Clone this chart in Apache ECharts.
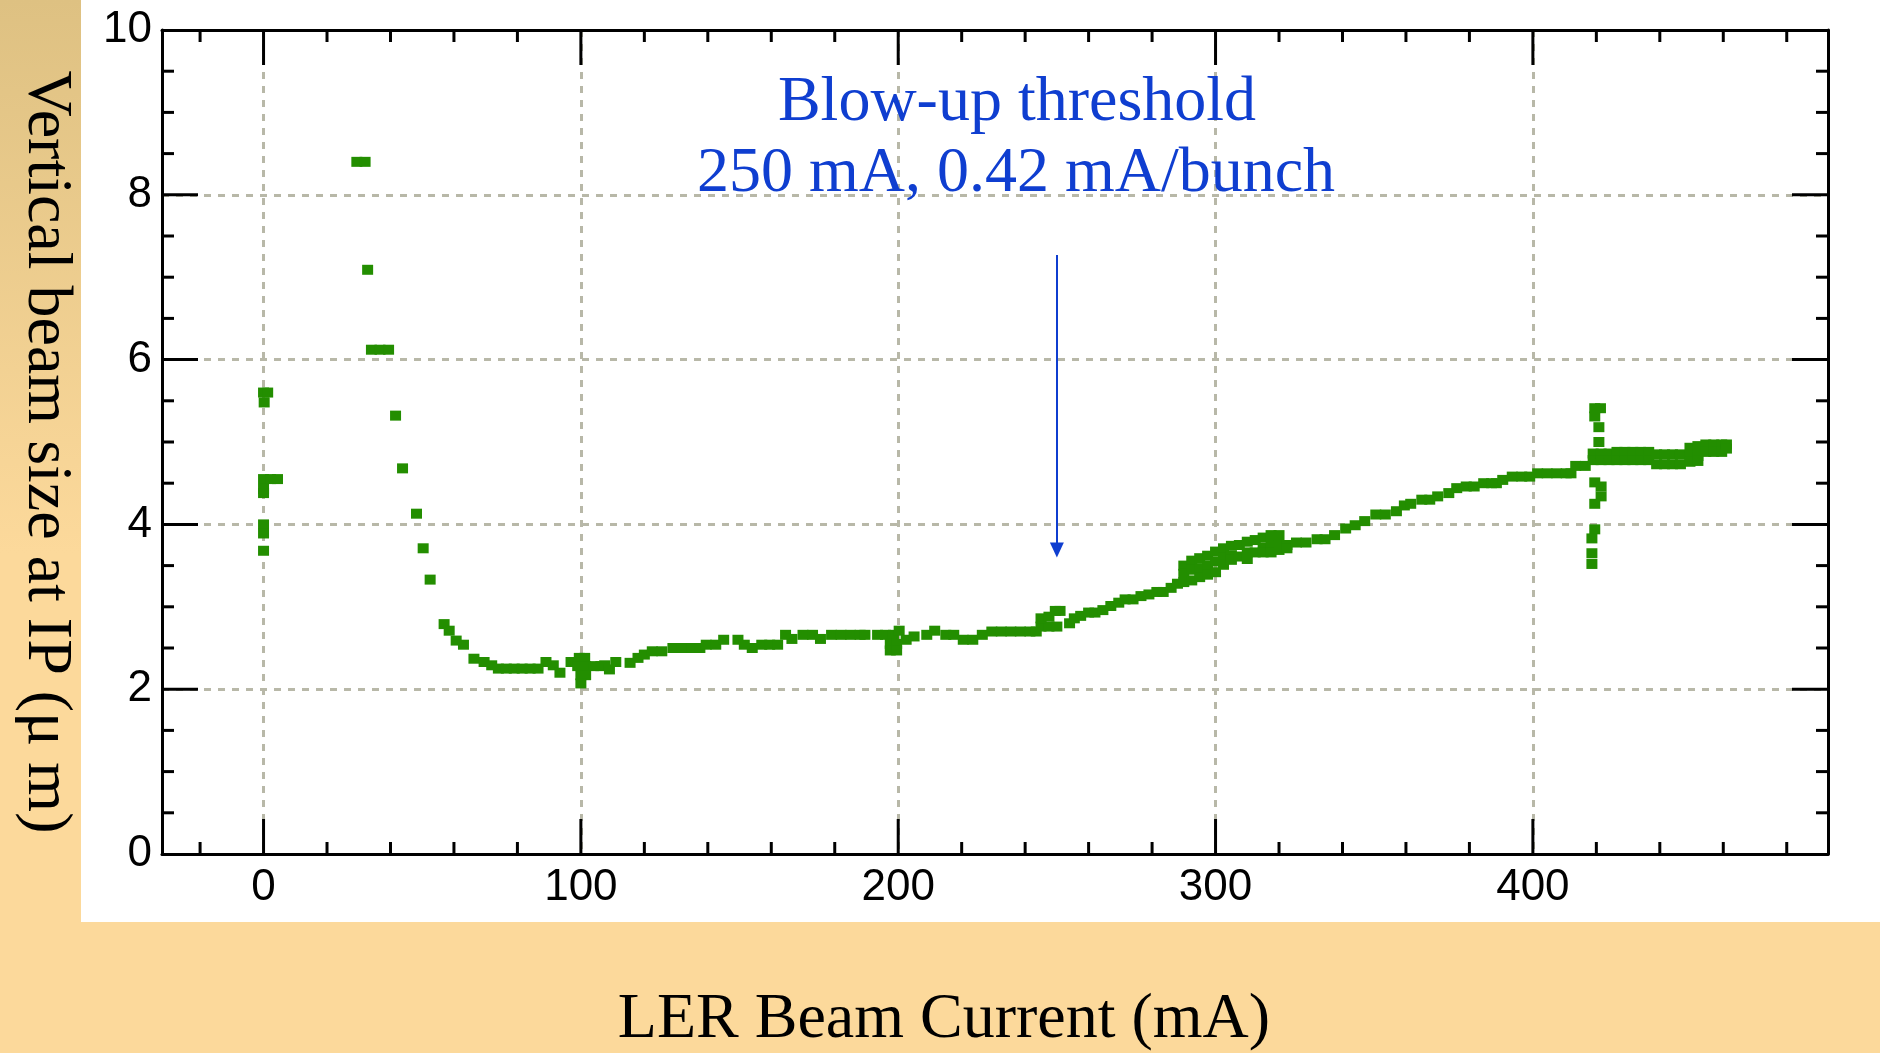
<!DOCTYPE html>
<html>
<head>
<meta charset="utf-8">
<title>Vertical beam size at IP vs LER beam current</title>
<script src="https://cdn.jsdelivr.net/npm/echarts@6/dist/echarts.min.js"></script>
<style>
  html, body { margin: 0; padding: 0; background: #FCD99B; }
  #chart { width: 1880px; height: 1053px; }
</style>
</head>
<body>
<div id="chart"></div>
<script>
// ---- axes ----
const xRange = [-32, 493];
const yRange = [0, 10];
const yTickStep = 2;
const xMajorTicks = [0, 100, 200, 300, 400];
const xMinorTicks = [-20, 20, 40, 60, 80, 120, 140, 160, 180, 220, 240, 260, 280,
                     320, 340, 360, 380, 420, 440, 460, 480];
const yMajorTicks = [2, 4, 6, 8];
const yMinorTicks = [0.5, 1, 1.5, 2.5, 3, 3.5, 4.5, 5, 5.5, 6.5, 7, 7.5, 8.5, 9, 9.5];

// ---- measurements: [LER current (mA), vertical beam size (μm)] ----
const injectionScan = [
  [0, 5.60], [1.3, 5.60], [0.2, 5.48],
  [0, 4.55], [2.2, 4.55], [4.4, 4.55], [0, 4.43], [0, 4.38],
  [0, 4.00], [0, 3.89], [0, 3.68]
];

const lowCurrent = [
  [29.4, 8.40], [32.0, 8.40], [32.8, 7.09],
  [34, 6.12], [36.7, 6.12], [39.4, 6.12],
  [41.6, 5.32], [43.8, 4.68], [48.2, 4.13], [50.3, 3.71], [52.5, 3.33],
  [56.9, 2.79], [58.5, 2.71], [60.7, 2.59], [63, 2.54], [66.3, 2.37],
  [69.5, 2.33], [71.9, 2.29], [74, 2.25], [76.5, 2.25], [79, 2.25],
  [81.5, 2.25], [84, 2.25], [86.5, 2.25], [89, 2.33], [91.3, 2.29],
  [93.4, 2.20], [96.9, 2.33]
];

const plateau = [
  [99.5, 2.38], [101.2, 2.38], [99, 2.28], [101.5, 2.28], [104, 2.28], [106.3, 2.28],
  [100, 2.17], [101.5, 2.17], [100, 2.07],
  [107.5, 2.29], [109, 2.24], [111, 2.33], [115.5, 2.32], [118, 2.38], [120, 2.42],
  [122.5, 2.46], [125.5, 2.46], [129, 2.50], [132, 2.50], [135, 2.50], [137.5, 2.50],
  [139.5, 2.54], [142.5, 2.54], [145, 2.60], [149.5, 2.60], [151.5, 2.54], [154, 2.50],
  [157, 2.54], [159.5, 2.54], [162, 2.54], [164.5, 2.66], [166.5, 2.61], [170, 2.66],
  [173, 2.66], [175.5, 2.61], [179, 2.66], [182, 2.66], [185, 2.66], [188, 2.66],
  [189.5, 2.66], [193.5, 2.66], [196, 2.66], [198.5, 2.66], [200.3, 2.71],
  [197.5, 2.55], [199.5, 2.55], [197.5, 2.47], [199.5, 2.47],
  [202.5, 2.60], [205, 2.64], [209, 2.66], [211.5, 2.71], [215, 2.66], [217.5, 2.66],
  [220.5, 2.60], [223.5, 2.60], [226.5, 2.66], [229.5, 2.70], [232.5, 2.70],
  [235.5, 2.70], [238.5, 2.70], [241.5, 2.70], [243.5, 2.70]
];

const rise = [
  [245, 2.76], [247.5, 2.76], [250, 2.76], [245, 2.86], [247.5, 2.88],
  [249.5, 2.95], [251, 2.95], [254, 2.80], [255.5, 2.86], [257.5, 2.89],
  [260, 2.93], [262, 2.93], [264.5, 2.96], [267, 3.01], [269.5, 3.05],
  [271.5, 3.09], [274, 3.09], [276.5, 3.13], [279, 3.15], [281.5, 3.18],
  [283.5, 3.18], [286, 3.23], [288, 3.28]
];

const spread = [
  [290, 3.50], [290, 3.40], [290, 3.30], [292.5, 3.56], [292.5, 3.45], [292.5, 3.32],
  [295, 3.59], [295, 3.47], [295, 3.36], [297.5, 3.62], [297.5, 3.50], [297.5, 3.39],
  [300, 3.67], [300, 3.55], [300, 3.42], [302.5, 3.71], [302.5, 3.60], [302.5, 3.51],
  [305, 3.74], [305, 3.62], [305, 3.57], [307.5, 3.75], [307.5, 3.61],
  [310, 3.79], [310, 3.66], [310, 3.58], [312.5, 3.81], [312.5, 3.66],
  [315, 3.84], [315, 3.72], [315, 3.66], [317.5, 3.87], [317.5, 3.75], [317.5, 3.66],
  [320, 3.87], [320, 3.75], [320, 3.69], [322.5, 3.75], [322.5, 3.71]
];

const highCurrent = [
  [325.5, 3.78], [328.5, 3.78], [332, 3.82], [334.5, 3.82], [337.5, 3.87],
  [341, 3.95], [344, 3.99], [347, 4.04], [350.5, 4.12], [353.5, 4.12],
  [357, 4.16], [359.5, 4.23], [361.5, 4.25], [365, 4.30], [367.5, 4.30],
  [370, 4.34], [373.5, 4.38], [376, 4.44], [379, 4.46], [381.5, 4.46],
  [384.5, 4.50], [387, 4.50], [388.5, 4.50], [390.5, 4.54], [393.5, 4.58],
  [396.5, 4.58], [399, 4.58], [401.5, 4.62], [404.5, 4.62], [407.5, 4.62],
  [410.5, 4.62], [412, 4.62], [413.5, 4.71], [416.5, 4.71]
];

const spike = [
  [419.5, 5.41], [421.3, 5.41], [419.5, 5.31], [420.8, 5.18], [420.8, 5.00],
  [419.5, 4.51], [421.5, 4.46], [421.5, 4.34], [419.5, 4.25],
  [419.5, 3.94], [418.6, 3.83], [418.6, 3.65], [418.6, 3.52]
];

const topBand = [
  [419, 4.86], [419, 4.78], [421.5, 4.86], [421.5, 4.78], [424, 4.86], [424, 4.78],
  [426.5, 4.88], [426.5, 4.78], [429, 4.88], [429, 4.78], [431.5, 4.88], [431.5, 4.78],
  [434, 4.88], [434, 4.78], [436.5, 4.88], [436.5, 4.78], [439, 4.85], [439, 4.73],
  [441.5, 4.85], [441.5, 4.73], [444, 4.85], [444, 4.73], [446.5, 4.85], [446.5, 4.73],
  [449.5, 4.93], [449.5, 4.83], [449.5, 4.76], [452, 4.95], [452, 4.83], [452, 4.77],
  [454.5, 4.97], [454.5, 4.88], [457, 4.97], [457, 4.88], [459.5, 4.97], [459.5, 4.88],
  [461, 4.97], [461, 4.92]
];

// ---- threshold annotation ----
const thresholdLines = ['Blow-up threshold', '250 mA, 0.42 mA/bunch'];
const thresholdCurrent = 250;
const arrowFrom = 7.27;
const arrowTo = 3.69;

// ---- colours ----
const markColor = '#238E00';
const noteColor = '#0F3ED0';
const gridColor = '#B8B8A8';
const serif = '"Liberation Serif", "Times New Roman", serif';
const sans = '"Liberation Sans", Arial, sans-serif';

const allPoints = [].concat(injectionScan, lowCurrent, plateau, rise, spread,
                            highCurrent, spike, topBand);

const chart = echarts.init(document.getElementById('chart'), null, { renderer: 'canvas' });

const boxAxisLine = { show: true, onZero: false, lineStyle: { color: '#000', width: 3 } };
const gridDash = { color: gridColor, width: 3, type: [7, 7] };
const tickStyle = { stroke: '#000', lineWidth: 3 };

// Inward ticks on all four sides of the frame, drawn above the dashed grid.
function xTickSeries(name, ticks, len) {
  return {
    name, type: 'custom', xAxisIndex: 0, yAxisIndex: 0, silent: true, clip: false, z: 5,
    data: ticks.map(v => [v, yRange[0]]),
    renderItem(params, api) {
      const v = api.value(0);
      const b = api.coord([v, yRange[0]]);
      const t = api.coord([v, yRange[1]]);
      return {
        type: 'group',
        children: [
          { type: 'line', shape: { x1: b[0], y1: b[1], x2: b[0], y2: b[1] - len }, style: tickStyle },
          { type: 'line', shape: { x1: t[0], y1: t[1], x2: t[0], y2: t[1] + len }, style: tickStyle }
        ]
      };
    }
  };
}
function yTickSeries(name, ticks, len) {
  return {
    name, type: 'custom', xAxisIndex: 0, yAxisIndex: 0, silent: true, clip: false, z: 5,
    data: ticks.map(v => [xRange[0], v]),
    renderItem(params, api) {
      const v = api.value(1);
      const l = api.coord([xRange[0], v]);
      const r = api.coord([xRange[1], v]);
      return {
        type: 'group',
        children: [
          { type: 'line', shape: { x1: l[0], y1: l[1], x2: l[0] + len, y2: l[1] }, style: tickStyle },
          { type: 'line', shape: { x1: r[0], y1: r[1], x2: r[0] - len, y2: r[1] }, style: tickStyle }
        ]
      };
    }
  };
}

const option = {
  animation: false,
  backgroundColor: '#FCD99B',
  grid: { left: 162, top: 30, width: 1666, height: 824, containLabel: false, outerBoundsMode: 'none' },
  xAxis: [
    {
      type: 'value', position: 'bottom', min: xRange[0], max: xRange[1],
      axisLine: boxAxisLine, axisTick: { show: false },
      axisLabel: {
        show: true, margin: 12, color: '#000', fontFamily: sans, fontSize: 44,
        showMinLabel: false, showMaxLabel: false,
        formatter: v => (v % 100 === 0 ? String(v) : '')
      },
      splitLine: { show: true, showMinLine: false, showMaxLine: false, lineStyle: gridDash }
    },
    {
      type: 'value', position: 'top', min: xRange[0], max: xRange[1],
      axisLine: boxAxisLine, axisTick: { show: false },
      axisLabel: { show: false }, splitLine: { show: false }
    }
  ],
  yAxis: [
    {
      type: 'value', position: 'left', min: yRange[0], max: yRange[1], interval: yTickStep,
      axisLine: boxAxisLine, axisTick: { show: false },
      axisLabel: { show: true, margin: 10, color: '#000', fontFamily: sans, fontSize: 44 },
      splitLine: { show: true, showMinLine: false, showMaxLine: false, lineStyle: gridDash }
    },
    {
      type: 'value', position: 'right', min: yRange[0], max: yRange[1], interval: yTickStep,
      axisLine: boxAxisLine, axisTick: { show: false },
      axisLabel: { show: false }, splitLine: { show: false }
    }
  ],
  series: [
    {
      name: 'Vertical beam size',
      type: 'scatter',
      xAxisIndex: 0, yAxisIndex: 0,
      symbol: 'rect', symbolSize: [11, 10],
      itemStyle: { color: markColor, opacity: 1 },
      emphasis: { disabled: true },
      silent: true,
      data: allPoints,
      markLine: {
        silent: true,
        symbol: ['none', 'triangle'],
        symbolSize: [14, 15],
        label: { show: false },
        lineStyle: { color: noteColor, width: 2, type: 'solid' },
        emphasis: { disabled: true },
        data: [[{ coord: [thresholdCurrent, arrowFrom] }, { coord: [thresholdCurrent, arrowTo] }]]
      }
    },
    xTickSeries('current major ticks', xMajorTicks, 35),
    xTickSeries('current minor ticks', xMinorTicks, 12),
    yTickSeries('size major ticks', yMajorTicks, 36),
    yTickSeries('size minor ticks', yMinorTicks, 12)
  ],
  graphic: [
    {
      type: 'rect', z: -10, silent: true,
      shape: { x: 81, y: 0, width: 1799, height: 922 },
      style: { fill: '#FFFFFF' }
    },
    {
      type: 'rect', z: -10, silent: true,
      shape: { x: 0, y: 0, width: 81, height: 922 },
      style: {
        fill: {
          type: 'linear', x: 0, y: 0, x2: 0, y2: 1,
          colorStops: [
            { offset: 0, color: '#DEC182' },
            { offset: 0.6, color: '#FCD99B' },
            { offset: 1, color: '#FCD99B' }
          ]
        }
      }
    },
    {
      type: 'text', z: 100, silent: true,
      x: 46, y: 452, rotation: -Math.PI / 2,
      style: {
        text: 'Vertical beam size at IP (μ m)',
        font: '64px ' + serif, fill: '#000',
        textAlign: 'center', textVerticalAlign: 'middle'
      }
    },
    {
      type: 'text', z: 100, silent: true,
      x: 944, y: 1020,
      style: {
        text: 'LER Beam Current (mA)',
        font: '64px ' + serif, fill: '#000',
        textAlign: 'center', textVerticalAlign: 'middle'
      }
    },
    {
      type: 'text', z: 100, silent: true,
      x: 1017, y: 103,
      style: {
        text: thresholdLines[0],
        font: '64px ' + serif, fill: noteColor,
        textAlign: 'center', textVerticalAlign: 'middle'
      }
    },
    {
      type: 'text', z: 100, silent: true,
      x: 1016, y: 174,
      style: {
        text: thresholdLines[1],
        font: '64px ' + serif, fill: noteColor,
        textAlign: 'center', textVerticalAlign: 'middle'
      }
    }
  ]
};

chart.setOption(option);
</script>
</body>
</html>
